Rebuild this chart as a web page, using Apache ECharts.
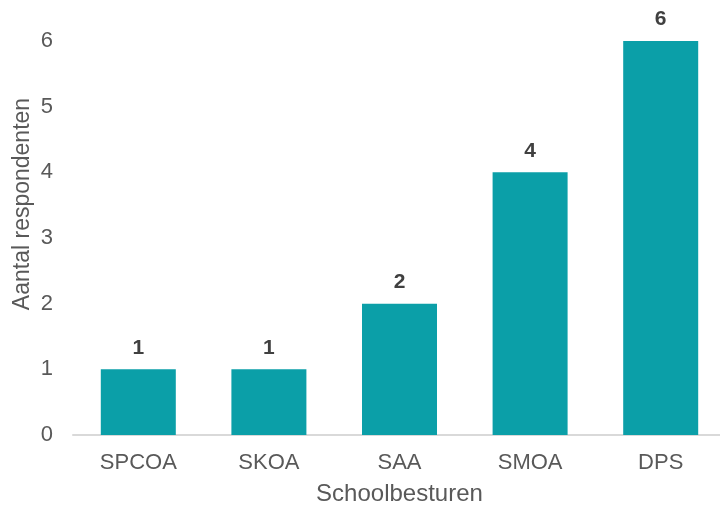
<!DOCTYPE html>
<html><head><meta charset="utf-8">
<script src="https://cdn.jsdelivr.net/npm/echarts@6/dist/echarts.min.js"></script>
<style>html,body{margin:0;padding:0;background:#fff}#c{width:720px;height:507px}</style>
</head><body><div id="c"></div>
<script>
const categories = ['SPCOA', 'SKOA', 'SAA', 'SMOA', 'DPS'];
const values = [1, 1, 2, 4, 6];
const xTitle = 'Schoolbesturen';
const yTitle = 'Aantal respondenten';

const chart = echarts.init(document.getElementById('c'), null, {renderer: 'canvas'});
const font = "'Liberation Sans', Arial, sans-serif";
chart.setOption({
  animation: false,
  textStyle: {fontFamily: font},
  grid: {left: 73, width: 653, top: 41, bottom: 72, containLabel: false, outerBoundsMode: 'none'},
  xAxis: {
    type: 'category', data: categories,
    axisLine: {lineStyle: {color: '#d9d9d9', width: 2}},
    axisTick: {show: false},
    axisLabel: {color: '#595959', fontSize: 22, fontFamily: font, margin: 17},
    name: xTitle, nameLocation: 'middle', nameGap: 47,
    nameTextStyle: {color: '#595959', fontSize: 24, fontFamily: font}
  },
  yAxis: {
    type: 'value', min: 0, max: 6, interval: 1,
    splitLine: {show: false},
    axisLine: {show: false}, axisTick: {show: false},
    axisLabel: {color: '#595959', fontSize: 22, fontFamily: font, margin: 20}
  },
  graphic: [{
    type: 'text', x: 23, y: 204, rotation: Math.PI / 2,
    style: {text: yTitle, fill: '#595959', fontSize: 23, fontFamily: font, align: 'center', verticalAlign: 'middle'}
  }],
  series: [{
    type: 'bar', data: values, barWidth: 75,
    itemStyle: {color: '#0b9fa8'},
    label: {show: true, position: 'top', distance: 11, color: '#404040', fontSize: 21, fontWeight: 'bold', fontFamily: font}
  }]
});
</script></body></html>
